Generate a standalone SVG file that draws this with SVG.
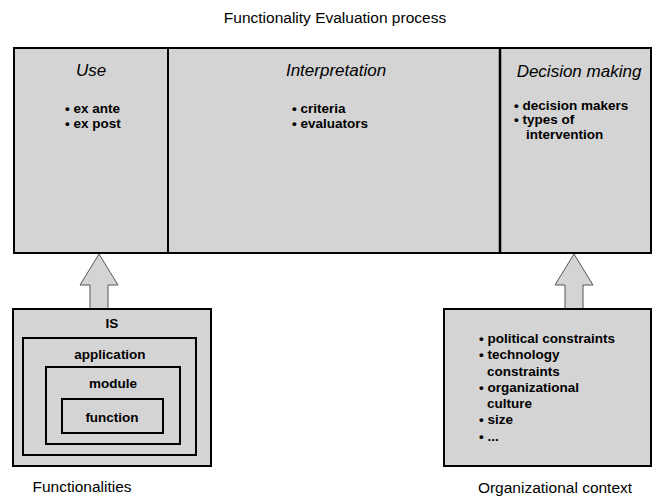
<svg xmlns="http://www.w3.org/2000/svg" width="654" height="497" viewBox="0 0 654 497">
<style>
.box{fill:#d4d4d4;stroke:#000;stroke-width:2}
.lbl{font-family:"Liberation Sans",Arial,sans-serif;font-size:15.5px;fill:#000}
.hdr{font-family:"Liberation Sans",Arial,sans-serif;font-size:17px;font-style:italic;fill:#000}
.b{font-family:"Liberation Sans",Arial,sans-serif;font-size:13.5px;font-weight:bold;fill:#000}
.arrow{fill:#d4d4d4;stroke:#555;stroke-width:1}
</style>
<rect width="654" height="497" fill="#fff"/>
<text class="lbl" x="335" y="23" text-anchor="middle">Functionality Evaluation process</text>
<g id="process">
<rect class="box" x="14" y="48" width="637" height="205" stroke-width="2.5"/>
<line x1="168" y1="48" x2="168" y2="253" stroke="#000" stroke-width="2"/>
<line x1="500" y1="48" x2="500" y2="253" stroke="#000" stroke-width="2.5"/>
</g>
<g id="use">
<text class="hdr" x="91" y="76" text-anchor="middle">Use</text>
<text class="b" x="65" y="113">• ex ante</text>
<text class="b" x="65" y="128">• ex post</text>
</g>
<g id="interpretation">
<text class="hdr" x="336" y="76" text-anchor="middle">Interpretation</text>
<text class="b" x="292" y="113">• criteria</text>
<text class="b" x="292" y="128">• evaluators</text>
</g>
<g id="decision">
<text class="hdr" x="579" y="77" text-anchor="middle">Decision making</text>
<text class="b" x="514" y="110">• decision makers</text>
<text class="b" x="514" y="124">• types of</text>
<text class="b" x="526" y="139">intervention</text>
</g>
<g id="connectors">
<polygon class="arrow" points="99,254 118,285 108,285 108,309 90,309 90,285 80,285"/>
<polygon class="arrow" points="574,254 593,285 583,285 583,309 565,309 565,285 555,285"/>
</g>
<g id="functionalities">
<rect class="box" x="13" y="309" width="198" height="157"/>
<text class="b" x="112" y="328" text-anchor="middle">IS</text>
<rect class="box" x="23" y="338" width="173" height="117"/>
<text class="b" x="110" y="359" text-anchor="middle">application</text>
<rect class="box" x="46" y="367" width="134" height="77"/>
<text class="b" x="113" y="388" text-anchor="middle">module</text>
<rect class="box" x="62" y="399" width="101" height="34"/>
<text class="b" x="112" y="422" text-anchor="middle">function</text>
<text class="lbl" x="82" y="492" text-anchor="middle">Functionalities</text>
</g>
<g id="context">
<rect class="box" x="444" y="309" width="207" height="157" stroke="#222" stroke-width="1.5"/>
<text class="b" x="479" y="343">• political constraints</text>
<text class="b" x="479" y="359">• technology</text>
<text class="b" x="487" y="376">constraints</text>
<text class="b" x="479" y="392">• organizational</text>
<text class="b" x="487" y="408">culture</text>
<text class="b" x="479" y="424">• size</text>
<text class="b" x="479" y="441">• ...</text>
<text class="lbl" x="555" y="493" text-anchor="middle">Organizational context</text>
</g>
</svg>
